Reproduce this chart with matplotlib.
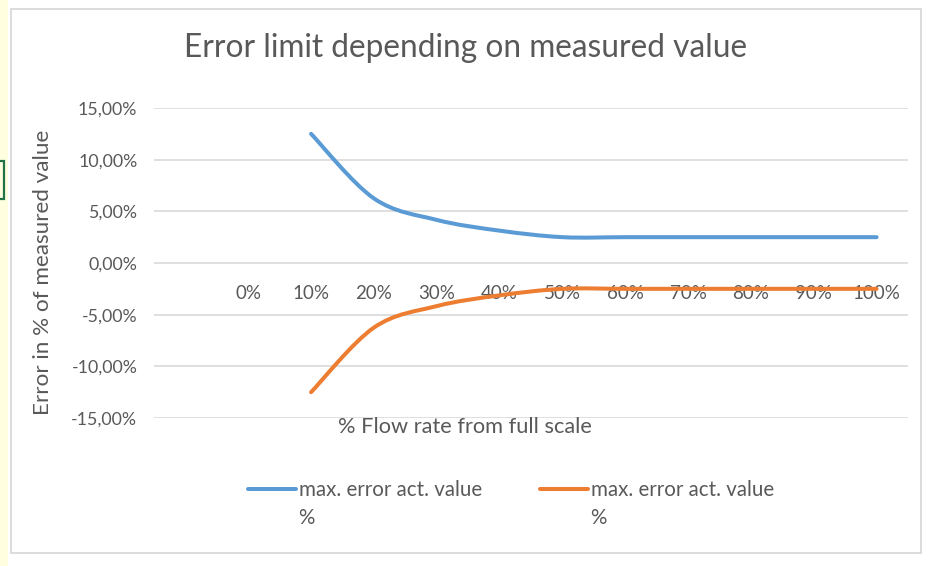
import numpy as np
import matplotlib
matplotlib.use("Agg")
import matplotlib.pyplot as plt
from matplotlib.path import Path
from matplotlib.patches import PathPatch, Rectangle
from matplotlib.lines import Line2D

plt.rcParams['font.family'] = ['Lato', 'DejaVu Sans']

# ---- data ----
categories = ["", "0%", "10%", "20%", "30%", "40%", "50%", "60%", "70%", "80%", "90%", "100%"]
series_pos = [np.nan, np.nan, 12.5, 6.25, 4.17, 3.13, 2.5, 2.5, 2.5, 2.5, 2.5, 2.5]
series_neg = [np.nan, np.nan, -12.5, -6.25, -4.17, -3.13, -2.5, -2.5, -2.5, -2.5, -2.5, -2.5]
series_names = ["max. error act. value", "max. error act. value"]
y_ticks = [-15, -10, -5, 0, 5, 10, 15]

W, H = 933, 566
GRAY = "#595959"
GRID = "#d9d9d9"
BLUE = "#5B9BD5"
ORANGE = "#ED7D31"

def fx(x):
    return x / W

def fy(y):
    return 1 - y / H

fig = plt.figure(figsize=(W / 100, H / 100), dpi=100)
fig.patch.set_facecolor("white")

# surrounding Excel decorations
fig.add_artist(Rectangle((0, 0), fx(8), 1, transform=fig.transFigure,
                         facecolor="#ffffe0", edgecolor="none", zorder=0))
fig.add_artist(Rectangle((fx(11), fy(553)), fx(921) - fx(11), fy(9) - fy(553),
                         transform=fig.transFigure, facecolor="white",
                         edgecolor=GRID, lw=1.3, zorder=0))
fig.add_artist(Rectangle((fx(-10), fy(199)), fx(14), fy(161) - fy(199),
                         transform=fig.transFigure, facecolor="none",
                         edgecolor="#217346", lw=1.6, zorder=1))

left, right, top, bottom = 154, 908, 108, 418
ax = fig.add_axes([fx(left), fy(bottom), fx(right) - fx(left), fy(top) - fy(bottom)])
ax.set_facecolor("none")
ax.set_xlim(-0.5, len(categories) - 0.5)
ax.set_ylim(y_ticks[0], y_ticks[-1])

for s in ax.spines.values():
    s.set_visible(False)

ax.set_yticks(y_ticks)
ax.set_yticklabels([f"{v:.2f}".replace(".", ",") + "%" for v in y_ticks])
ax.yaxis.grid(True, color=GRID, lw=1.2)
ax.set_axisbelow(True)
ax.tick_params(axis="y", length=0, pad=12, labelsize=12.8, labelcolor=GRAY)

ax.set_xticks(range(len(categories)))
ax.set_xticklabels(categories)
ax.spines["bottom"].set_position(("data", 0))
ax.tick_params(axis="x", length=0, pad=16, labelsize=13.5, labelcolor=GRAY)


def smooth_path(xs, ys):
    pts = [(x, y) for x, y in zip(xs, ys) if not np.isnan(y)]
    pts = np.array(pts, dtype=float)
    n = len(pts)
    verts = [tuple(pts[0])]
    codes = [Path.MOVETO]
    for i in range(n - 1):
        p0 = pts[i - 1] if i > 0 else pts[i]
        p1 = pts[i]
        p2 = pts[i + 1]
        p3 = pts[i + 2] if i + 2 < n else pts[i + 1]
        c1 = p1 + (p2 - p0) / 6.0
        c2 = p2 - (p3 - p1) / 6.0
        verts += [tuple(c1), tuple(c2), tuple(p2)]
        codes += [Path.CURVE4] * 3
    return Path(verts, codes)


xs = np.arange(len(categories))
for vals, col in [(series_pos, BLUE), (series_neg, ORANGE)]:
    ax.add_patch(PathPatch(smooth_path(xs, vals), facecolor="none", edgecolor=col,
                           lw=2.9, capstyle="round", joinstyle="round", zorder=3))

# titles
fig.text(fx(466), fy(48), "Error limit depending on measured value", ha="center",
         va="center", fontsize=22.8, color=GRAY)
fig.text(fx(43), fy(272), "Error in % of measured value", rotation=90, ha="center",
         va="center", fontsize=16.2, color=GRAY)
fig.text(fx(465), fy(427), "% Flow rate from full scale", ha="center", va="center",
         fontsize=15.7, color=GRAY)

# legend (two entries, label wraps onto a second line)
for name, col, x0 in [(series_names[0], BLUE, 248), (series_names[1], ORANGE, 540)]:
    h = Line2D([], [], color=col, lw=2.9, solid_capstyle="round")
    leg = fig.legend([h], [name], loc="center left", bbox_to_anchor=(fx(x0), fy(490)),
                     frameon=False, borderpad=0, borderaxespad=0, handlelength=2.35,
                     handletextpad=0.12, fontsize=14.8, labelcolor=GRAY)
    fig.text(fx(x0 + 50), fy(518), "%", ha="left", va="center", fontsize=14.8, color=GRAY)

fig.savefig("out.png", dpi=100)
